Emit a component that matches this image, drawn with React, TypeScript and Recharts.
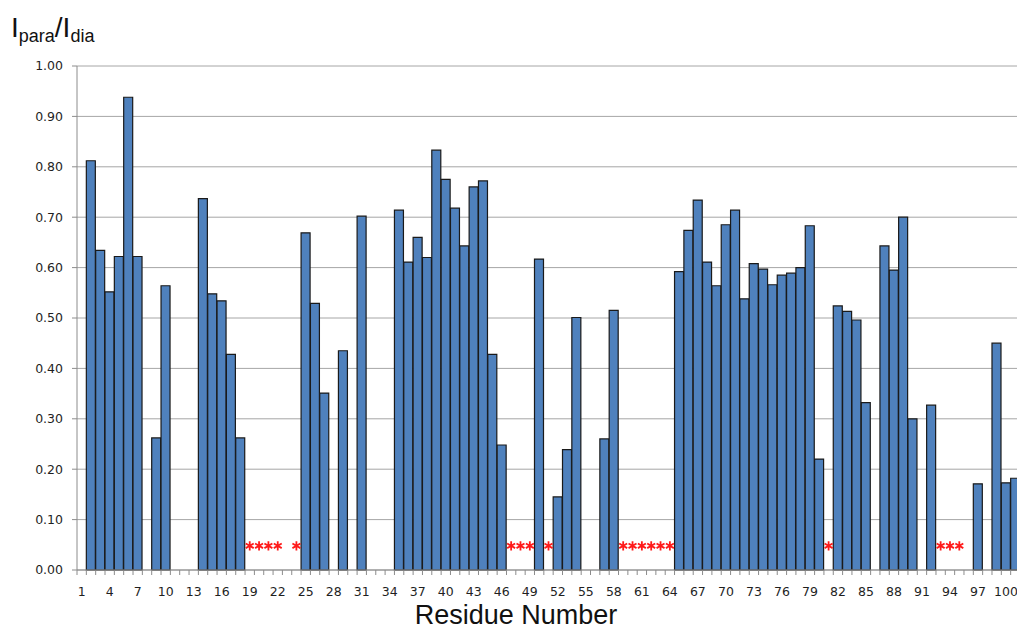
import { ComposedChart, Bar, Scatter, XAxis, YAxis, CartesianGrid } from "recharts";

// residue numbers along the x axis
const residues: number[] = Array.from({ length: 101 }, (_, i) => i + 1);

// I_para / I_dia per residue (null = no peak)
const ratios: (number | null)[] = [
  null, 0.812, 0.634, 0.552, 0.622, 0.938, 0.622, null, 0.262, 0.564,
  null, null, null, 0.737, 0.548, 0.534, 0.428, 0.262, null, null,
  null, null, null, null, 0.669, 0.529, 0.351, null, 0.435, null,
  0.702, null, null, null, 0.714, 0.611, 0.66, 0.62, 0.833, 0.775,
  0.718, 0.643, 0.76, 0.772, 0.428, 0.248, null, null, null, 0.617,
  null, 0.145, 0.239, 0.501, null, null, 0.26, 0.515, null, null,
  null, null, null, null, 0.592, 0.674, 0.734, 0.611, 0.564, 0.685,
  0.714, 0.538, 0.608, 0.597, 0.566, 0.585, 0.589, 0.6, 0.683, 0.22,
  null, 0.524, 0.513, 0.496, 0.332, null, 0.643, 0.595, 0.7, 0.3,
  null, 0.327, null, null, null, null, 0.171, null, 0.45, 0.173,
  0.182,
];

// residues marked with a red asterisk
const flagged: number[] = [19, 20, 21, 22, 24, 47, 48, 49, 51, 59, 60, 61, 62, 63, 64, 81, 93, 94, 95];
const FLAG_LEVEL = 0.048;

const yTicks: number[] = [0, 0.1, 0.2, 0.3, 0.4, 0.5, 0.6, 0.7, 0.8, 0.9, 1.0];
const LABEL_EVERY = 3;

const data = residues.map((r, i) => ({
  residue: r,
  ratio: ratios[i],
  flag: flagged.includes(r) ? FLAG_LEVEL : null,
}));

const CHART_W = 1030;
const CHART_H = 630;
const MARGIN = { top: 66, right: 10, bottom: 0, left: 0 };
const Y_AXIS_W = 77;
const X_AXIS_H = 60;
const PLOT_W = CHART_W - MARGIN.left - MARGIN.right - Y_AXIS_W;
const BAND = PLOT_W / residues.length;

const AXIS_GRAY = "#8c8c8c";
const GRID_GRAY = "#a6a6a6";
const NUM_FONT = "'DejaVu Sans', Verdana, sans-serif";
const TITLE_FONT = "'Liberation Sans', Arial, sans-serif";

// tick mark at each category boundary, number under every third residue
function ResidueTick(props: any) {
  const { x, y, payload, index } = props;
  const left = x - BAND / 2;
  return (
    <g>
      <line x1={left} x2={left} y1={y} y2={y + 5} stroke={AXIS_GRAY} />
      {index % LABEL_EVERY === 0 && (
        <text x={x} y={y + 26} textAnchor="middle" fontFamily={NUM_FONT} fontSize={12.5} fill="#1f1f1f">
          {payload.value}
        </text>
      )}
    </g>
  );
}

function Asterisk(props: any) {
  const { cx, cy, payload } = props;
  if (payload == null || payload.flag == null || cx == null || cy == null) return null;
  const r = 4.6;
  const d = [90, 30, 150]
    .map((deg) => {
      const a = (deg * Math.PI) / 180;
      const dx = r * Math.cos(a);
      const dy = r * Math.sin(a);
      return `M${cx - dx},${cy - dy}L${cx + dx},${cy + dy}`;
    })
    .join("");
  return <path d={d} stroke="#ff1a1a" strokeWidth={1.8} fill="none" />;
}

export default function App() {
  return (
    <div
      style={{
        position: "fixed",
        left: 0,
        top: 0,
        width: 1017,
        height: 630,
        overflow: "hidden",
        background: "#ffffff",
      }}
    >
      <ComposedChart
        width={CHART_W}
        height={CHART_H}
        data={data}
        margin={MARGIN}
        barCategoryGap={0}
        barGap={0}
      >
        <CartesianGrid vertical={false} stroke={GRID_GRAY} />
        <XAxis
          dataKey="residue"
          height={X_AXIS_H}
          interval={0}
          tickSize={0}
          tickMargin={0}
          tickLine={false}
          axisLine={{ stroke: AXIS_GRAY }}
          tick={<ResidueTick />}
        />
        <YAxis
          type="number"
          domain={[0, 1]}
          ticks={yTicks}
          width={Y_AXIS_W}
          tickSize={5}
          tickMargin={9}
          axisLine={{ stroke: AXIS_GRAY }}
          tickLine={{ stroke: AXIS_GRAY }}
          tickFormatter={(v: number) => v.toFixed(2)}
          tick={{ fontFamily: NUM_FONT, fontSize: 12.5, fill: "#1f1f1f" }}
        />
        <Bar dataKey="ratio" fill="#4f81bd" stroke="#1a1a1a" strokeWidth={1.2} isAnimationActive={false} />
        <Scatter dataKey="flag" shape={(p: any) => <Asterisk {...p} />} isAnimationActive={false} />
      </ComposedChart>
      <svg
        width={1017}
        height={630}
        style={{ position: "absolute", left: 0, top: 0, pointerEvents: "none" }}
      >
        <text x={11} y={37} fontFamily={TITLE_FONT} fill="#111">
          <tspan fontSize={28}>I</tspan>
          <tspan fontSize={18} dy={5}>para</tspan>
          <tspan fontSize={28} dy={-5}>/I</tspan>
          <tspan fontSize={18} dy={5}>dia</tspan>
        </text>
        <text x={516} y={624} textAnchor="middle" fontFamily={TITLE_FONT} fontSize={27} fill="#111">
          Residue Number
        </text>
      </svg>
    </div>
  );
}
